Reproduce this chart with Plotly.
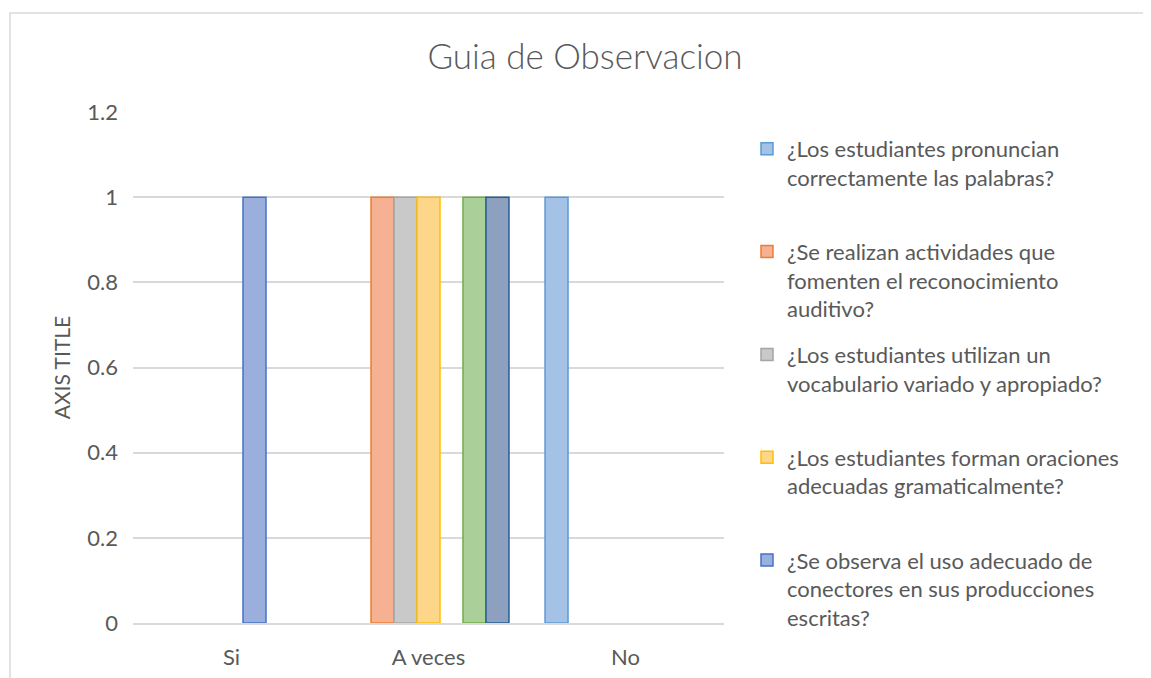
import plotly.graph_objects as go

categories = ["Si", "A veces", "No"]

series_names = [
    "¿Los estudiantes pronuncian<br>correctamente las palabras?",
    "¿Se realizan actividades que<br>fomenten el reconocimiento<br>auditivo?",
    "¿Los estudiantes utilizan un<br>vocabulario variado y apropiado?",
    "¿Los estudiantes forman oraciones<br>adecuadas gramaticalmente?",
    "¿Se observa el uso adecuado de<br>conectores en sus producciones<br>escritas?",
    "Serie 6",
    "Serie 7",
]
s1 = [0, 0, 1]
s2 = [0, 1, 0]
s3 = [0, 1, 0]
s4 = [0, 1, 0]
s5 = [1, 0, 0]
s6 = [0, 1, 0]
s7 = [0, 1, 0]
series_values = [s1, s2, s3, s4, s5, s6, s7]
show_in_legend = [True, True, True, True, True, False, False]

fills = ["#a4c2e6", "#f6b092", "#c9c9c9", "#fed68a", "#9bafdd", "#aacf98", "#8ea0c0"]
borders = ["#5b9bd5", "#ed7d31", "#a5a5a5", "#ffc000", "#4472c4", "#70ad47", "#255e91"]

FONT = "Lato"
TXT = "#595959"

# page body has an 8px margin; work in reference pixel coords and shift
OFF = 8
W, H = 1151 - OFF, 678 - OFF
L, R, T, B = 133 - OFF, 724 - OFF, 112 - OFF, 623 - OFF
pw, ph = R - L, B - T


def px(x):
    return (x - OFF - L) / pw


def py(y):
    return (B - (y - OFF)) / ph


fig = go.Figure()
for i, (name, vals) in enumerate(zip(series_names, series_values)):
    # the bars themselves (zero-height bars get no outline)
    fig.add_trace(go.Bar(
        x=categories, y=vals, name=name.replace("<br>", " "),
        legendgroup=f"g{i}", offsetgroup=f"o{i}", showlegend=False,
        marker=dict(color=fills[i],
                    line=dict(color=borders[i],
                              width=[1.5 if v else 0 for v in vals])),
    ))

for i, name in enumerate(series_names):
    if not show_in_legend[i]:
        continue
    # legend entry for the series (no marks drawn, shares the series slot)
    nlines = name.count("<br>") + 1
    label = name + "<br> " * (3 - nlines)
    fig.add_trace(go.Bar(
        x=[None], y=[None], name=label, legendgroup=f"g{i}",
        offsetgroup=f"o{i}", showlegend=True, hoverinfo="skip",
        marker=dict(color=fills[i], line=dict(color=borders[i], width=1.5)),
    ))

fig.update_layout(
    width=W, height=H,
    margin=dict(l=L, r=W - R, t=T, b=H - B),
    paper_bgcolor="white", plot_bgcolor="white",
    barmode="group", bargap=0.183, bargroupgap=0,
    font=dict(family=FONT, color=TXT),
    title=dict(text="Guia de Observacion", x=(585 - OFF) / W, xanchor="center",
               y=1 - (57 - OFF) / H, yanchor="middle",
               font=dict(family=FONT, size=35, color=TXT, weight=300)),
    legend=dict(xref="container", yref="container",
                x=(747 - OFF) / W, y=1 - (128 - OFF) / H,
                xanchor="left", yanchor="top", valign="top",
                tracegroupgap=14, traceorder="grouped", maxheight=620,
                font=dict(family=FONT, size=22, color=TXT),
                bgcolor="rgba(0,0,0,0)"),
    xaxis=dict(showgrid=False, showline=True, linecolor="#d9d9d9", linewidth=1.5,
               ticks="", automargin=False,
               tickfont=dict(family=FONT, size=22, color=TXT),
               ticklabelstandoff=14),
    yaxis=dict(range=[0, 1.2], dtick=0.2, showgrid=True, gridcolor="#d9d9d9",
               gridwidth=1.5, zeroline=False, showline=False, ticks="",
               tickformat="~g", automargin=False,
               tickfont=dict(family=FONT, size=22, color=TXT),
               ticklabelstandoff=14,
               title=dict(text="AXIS TITLE", standoff=10,
                          font=dict(family=FONT, size=21, color=TXT))),
    shapes=[dict(type="rect", xref="paper", yref="paper",
                 x0=px(10), x1=px(1165), y0=py(700), y1=py(13),
                 line=dict(color="#d9d9d9", width=1.5), fillcolor="rgba(0,0,0,0)",
                 layer="below")],
)

fig.write_html("out.html")
